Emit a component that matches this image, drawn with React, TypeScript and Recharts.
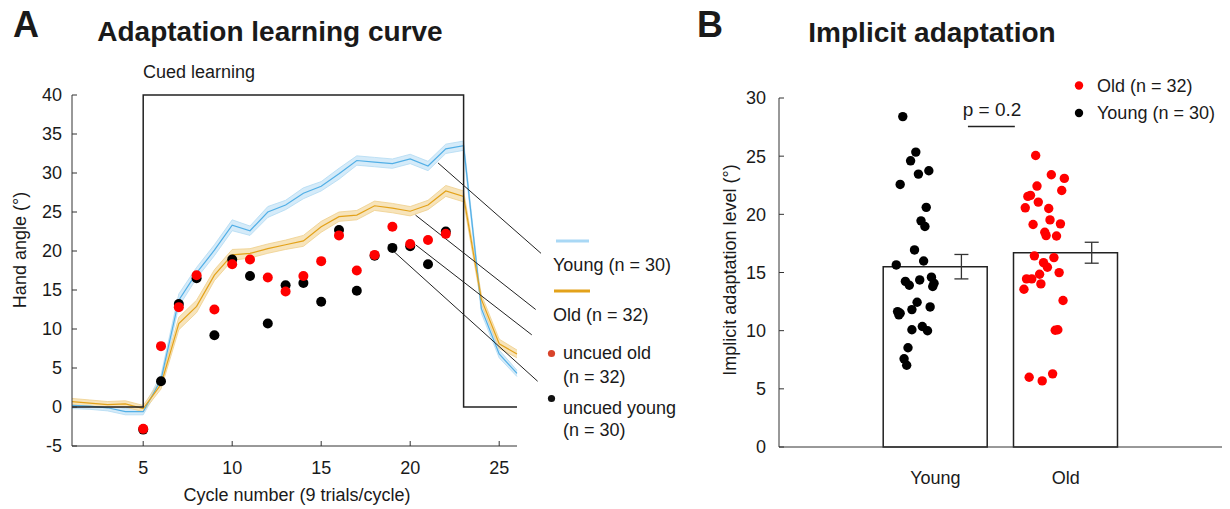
import { Area, Bar, ComposedChart, ErrorBar, Line, ReferenceLine, Scatter, XAxis, YAxis } from "recharts"

// ---- panel A: learning curve ----
const cycles = [1, 2, 3, 4, 5, 6, 7, 8, 9, 10, 11, 12, 13, 14, 15, 16, 17, 18, 19, 20, 21, 22, 23, 24, 25, 26]
const youngMean = [0.2, 0.1, -0.1, -0.6, -0.6, 3.5, 13.7, 17.2, 20.1, 23.3, 22.6, 25.0, 25.9, 27.4, 28.3, 29.9, 31.6, 31.4, 31.2, 31.8, 30.9, 33.1, 33.5, 12.6, 6.8, 4.3]
const youngSe = [0.4, 0.4, 0.4, 0.4, 0.4, 0.6, 0.8, 0.7, 0.7, 0.7, 0.6, 0.7, 0.6, 0.7, 0.6, 0.7, 0.6, 0.6, 0.6, 0.6, 0.6, 0.6, 0.6, 0.6, 0.5, 0.4]
const oldMean = [0.7, 0.5, 0.3, 0.4, -0.2, 2.9, 10.7, 12.9, 16.9, 19.5, 19.7, 20.3, 20.8, 21.3, 23.1, 24.4, 24.6, 25.8, 25.5, 25.1, 25.9, 27.7, 27.0, 13.8, 8.1, 6.8]
const oldSe = [0.4, 0.4, 0.4, 0.4, 0.4, 0.6, 0.8, 0.8, 0.7, 0.7, 0.6, 0.6, 0.6, 0.7, 0.7, 0.6, 0.6, 0.6, 0.6, 0.6, 0.6, 0.7, 0.7, 0.6, 0.6, 0.5]

const cueCycles = [1, 5, 5, 23, 23, 26]
const cueLevel = [0, 0, 40, 40, 0, 0]

const uncuedCycles = [5, 6, 7, 8, 9, 10, 11, 12, 13, 14, 15, 16, 17, 18, 19, 20, 21, 22]
const uncuedOld = [-2.8, 7.8, 12.8, 16.9, 12.5, 18.3, 18.9, 16.6, 14.8, 16.8, 18.7, 22.0, 17.5, 19.5, 23.1, 20.9, 21.4, 22.2]
const uncuedYoung = [-2.9, 3.3, 13.2, 16.5, 9.2, 18.9, 16.8, 10.7, 15.6, 15.9, 13.5, 22.7, 14.9, 19.4, 20.4, 20.6, 18.3, 22.5]

const angleTicks = [-5, 0, 5, 10, 15, 20, 25, 30, 35, 40]
const cycleTicks = [5, 10, 15, 20, 25]

// ---- panel B: implicit adaptation ----
const groups = ["Young", "Old"]
const groupMeans = [15.5, 16.7]
const groupSem = [1.05, 0.9]
const youngLevels = [28.4, 25.35, 24.6, 23.46, 23.75, 22.57, 20.6, 19.44, 18.95, 16.94, 15.99, 15.65, 14.24, 13.9, 14.36, 14.6, 14.08, 13.8, 12.44, 12.04, 11.81, 11.64, 11.5, 11.36, 10.36, 9.99, 10.08, 8.53, 7.58, 7.03]
const youngJitter = [-0.25, -0.15, -0.19, -0.13, -0.05, -0.27, -0.07, -0.11, -0.08, -0.16, -0.09, -0.3, -0.23, -0.2, -0.12, -0.03, -0.01, -0.02, -0.14, -0.04, -0.18, -0.29, -0.27, -0.28, -0.1, -0.06, -0.18, -0.21, -0.24, -0.22]
const oldLevels = [25.06, 23.4, 23.09, 22.43, 22.05, 21.54, 21.63, 21.05, 20.56, 20.5, 19.52, 19.13, 19.18, 18.46, 18.17, 18.14, 16.43, 16.28, 15.85, 15.45, 14.99, 14.85, 14.45, 14.45, 14.02, 13.56, 12.59, 10.04, 10.08, 6.0, 5.68, 6.29]
const oldJitter = [-0.23, -0.11, -0.01, -0.22, -0.03, -0.29, -0.27, -0.21, -0.31, -0.13, -0.12, -0.25, -0.04, -0.16, -0.15, -0.07, -0.24, -0.09, -0.17, -0.14, -0.05, -0.2, -0.3, -0.26, -0.19, -0.32, -0.02, -0.08, -0.06, -0.28, -0.18, -0.1]
const levelTicks = [0, 5, 10, 15, 20, 25, 30]

const BLUE = "#52afe6"
const ORANGE = "#e3a21a"
const AXIS = "#333"
const FONT = "'Liberation Sans', Arial, sans-serif"

const curveRows = cycles.map((c, i) => ({
  cycle: c,
  young: youngMean[i],
  old: oldMean[i],
  youngBand: [youngMean[i] - youngSe[i], youngMean[i] + youngSe[i]],
  oldBand: [oldMean[i] - oldSe[i], oldMean[i] + oldSe[i]],
}))
const cueRows = cueCycles.map((c, i) => ({ cycle: c, cue: cueLevel[i] }))
const uncuedOldRows = uncuedCycles.map((c, i) => ({ cycle: c, v: uncuedOld[i] }))
const uncuedYoungRows = uncuedCycles.map((c, i) => ({ cycle: c, v: uncuedYoung[i] }))

// leader lines from curves to the labels (data coords)
const leaders = [
  [21.56, 31.3, 27.35, 19.7],
  [20.3, 24.6, 27.05, 12.5],
  [20.3, 20.8, 26.83, 9.25],
  [19.0, 20.1, 27.16, 3.3],
]

const ERR_SHIFT = 0.2
const barRows = groups.map((g, i) => ({ g: i + 1, mean: groupMeans[i] }))
const errRows = groups.map((g, i) => ({ g: i + 1 + ERR_SHIFT, mean: groupMeans[i], err: groupSem[i] }))
const youngRows = youngLevels.map((v, i) => ({ g: 1 + youngJitter[i], v }))
const oldRows = oldLevels.map((v, i) => ({ g: 2 + oldJitter[i], v }))

const dot = (fill: string, r: number) => (p: any) => <circle cx={p.cx} cy={p.cy} r={r} fill={fill} />

function Txt({ x, y, size = 18, bold = false, rotate = false, center = true, children }: any) {
  return (
    <div
      style={{
        position: "absolute",
        left: x,
        top: y,
        fontSize: size,
        fontWeight: bold ? 700 : 400,
        whiteSpace: "nowrap",
        lineHeight: 1,
        color: "#1a1a1a",
        transform: `translate(${center ? "-50%" : "0"}, -50%)${rotate ? " rotate(-90deg)" : ""}`,
      }}
    >
      {children}
    </div>
  )
}

const tickStyle = { fontSize: 18, fill: "#1a1a1a" }

export default function App() {
  return (
    <div style={{ position: "absolute", left: 0, top: 0, width: 1230, height: 509, background: "#fff", fontFamily: FONT }}>
      <div style={{ position: "absolute", left: 0, top: 0 }}>
        <ComposedChart width={690} height={509} data={curveRows} margin={{ top: 95, right: 173, bottom: 33, left: 22 }}>
          <XAxis
            dataKey="cycle"
            type="number"
            domain={[1, 26]}
            ticks={cycleTicks}
            stroke={AXIS}
            tick={tickStyle}
            tickSize={-5}
            tickMargin={20}
            height={30}
          />
          <YAxis
            type="number"
            domain={[-5, 40]}
            ticks={angleTicks}
            stroke={AXIS}
            tick={tickStyle}
            tickSize={-5}
            tickMargin={15}
            width={50}
          />
          <Area dataKey="youngBand" stroke="#b3daf3" strokeWidth={0.8} fill="#d5ebf9" fillOpacity={1} isAnimationActive={false} />
          <Area dataKey="oldBand" stroke="#efcf8c" strokeWidth={0.8} fill="#f7e4bb" fillOpacity={1} isAnimationActive={false} />
          <Line dataKey="young" stroke={BLUE} strokeWidth={1.2} dot={false} isAnimationActive={false} />
          <Line dataKey="old" stroke={ORANGE} strokeWidth={1.2} dot={false} isAnimationActive={false} />
          <Line data={cueRows} dataKey="cue" stroke="#222" strokeWidth={1.5} dot={false} isAnimationActive={false} />
          {leaders.map((l, i) => (
            <ReferenceLine
              key={i}
              segment={[{ x: l[0], y: l[1] }, { x: l[2], y: l[3] }]}
              stroke="#222"
              strokeWidth={1}
              ifOverflow="visible"
            />
          ))}
          <Scatter data={uncuedYoungRows} dataKey="v" shape={dot("#000", 5)} isAnimationActive={false} />
          <Scatter data={uncuedOldRows} dataKey="v" shape={dot("#ff0000", 5)} isAnimationActive={false} />
        </ComposedChart>
      </div>

      <div style={{ position: "absolute", left: 690, top: 0 }}>
        <ComposedChart width={540} height={509} data={barRows} margin={{ top: 98, right: 8, bottom: 22, left: 39 }}>
          <XAxis
            dataKey="g"
            type="number"
            domain={[-0.2, 3.2]}
            ticks={[1, 2]}
            tickFormatter={(v) => groups[v - 1]}
            stroke={AXIS}
            tick={tickStyle}
            tickLine={false}
            tickSize={0}
            tickMargin={24}
            height={40}
          />
          <XAxis xAxisId="bars" dataKey="g" type="number" domain={[-0.2, 3.2]} hide />
          <YAxis
            type="number"
            domain={[0, 30]}
            ticks={levelTicks}
            stroke={AXIS}
            tick={tickStyle}
            tickSize={-5}
            tickMargin={18}
            width={50}
          />
          <Bar xAxisId="bars" dataKey="mean" barSize={104} fill="#fff" stroke="#222" strokeWidth={1.5} isAnimationActive={false} />
          <Scatter data={errRows} dataKey="mean" shape={() => <g />} isAnimationActive={false}>
            <ErrorBar dataKey="err" direction="y" width={7} stroke="#333" strokeWidth={1.3} />
          </Scatter>
          <ReferenceLine
            segment={[{ x: 1.25, y: 27.55 }, { x: 1.61, y: 27.55 }]}
            stroke="#222"
            strokeWidth={1.5}
            ifOverflow="visible"
          />
          <Scatter data={youngRows} dataKey="v" shape={dot("#000", 4.7)} isAnimationActive={false} />
          <Scatter data={oldRows} dataKey="v" shape={dot("#ff0000", 4.7)} isAnimationActive={false} />
        </ComposedChart>
      </div>

      {/* legend glyphs */}
      <svg width={1230} height={509} style={{ position: "absolute", left: 0, top: 0, pointerEvents: "none" }}>
        <line x1={556} x2={589} y1={241} y2={241} stroke="#a9d8f5" strokeWidth={3} />
        <line x1={554} x2={590} y1={291} y2={291} stroke={ORANGE} strokeWidth={3} />
        <circle cx={551.5} cy={353.5} r={3.6} fill="#d8432a" />
        <circle cx={551.5} cy={398.5} r={3.6} fill="#111" />
        <circle cx={1079} cy={85.5} r={4.2} fill="#ff0000" />
        <circle cx={1079} cy={113} r={4.2} fill="#000" />
      </svg>

      <Txt x={26} y={25} size={36} bold>A</Txt>
      <Txt x={270} y={32} size={28} bold>Adaptation learning curve</Txt>
      <Txt x={143} y={72} center={false}>Cued learning</Txt>
      <Txt x={20} y={250} rotate>Hand angle (°)</Txt>
      <Txt x={297} y={495}>Cycle number (9 trials/cycle)</Txt>
      <Txt x={553} y={265} center={false}>Young (n = 30)</Txt>
      <Txt x={553} y={315} center={false}>Old (n = 32)</Txt>
      <Txt x={563} y={353} center={false}>uncued old</Txt>
      <Txt x={563} y={377} center={false}>(n = 32)</Txt>
      <Txt x={563} y={408} center={false}>uncued young</Txt>
      <Txt x={563} y={430} center={false}>(n = 30)</Txt>

      <Txt x={710} y={25} size={36} bold>B</Txt>
      <Txt x={932} y={33} size={28} bold>Implicit adaptation</Txt>
      <Txt x={730} y={270} rotate>Implicit adaptation level (°)</Txt>
      <Txt x={992} y={109} size={19}>p = 0.2</Txt>
      <Txt x={1097} y={86} center={false}>Old (n = 32)</Txt>
      <Txt x={1097} y={113} center={false}>Young (n = 30)</Txt>
    </div>
  )
}
